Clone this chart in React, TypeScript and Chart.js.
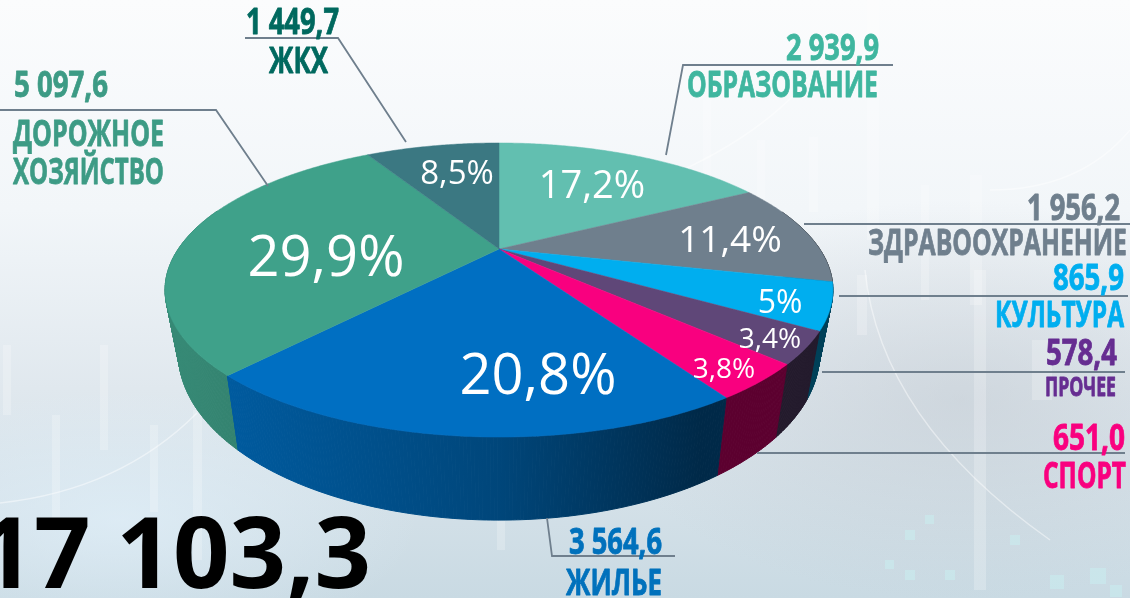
import React, { useEffect, useRef } from "react";
import { Chart, registerables } from "chart.js";

Chart.register(...registerables);

const categories = ["ОБРАЗОВАНИЕ", "ЗДРАВООХРАНЕНИЕ", "КУЛЬТУРА", "ПРОЧЕЕ", "СПОРТ", "ЖИЛЬЕ", "ДОРОЖНОЕ ХОЗЯЙСТВО", "ЖКХ"];
const values = [2939.9, 1956.2, 865.9, 578.4, 651.0, 3564.6, 5097.6, 1449.7];
const valueLabels = ["2 939,9", "1 956,2", "865,9", "578,4", "651,0", "3 564,6", "5 097,6", "1 449,7"];
const percentLabels = ["17,2%", "11,4%", "5%", "3,4%", "3,8%", "20,8%", "29,9%", "8,5%"];
const sliceColors = ["#62bfb0", "#6f7f8d", "#00aeef", "#5f4778", "#f9007f", "#006fc2", "#3fa18a", "#3b7882"];
const textColors = ["#3fb69f", "#6f7f8d", "#00aeef", "#662d91", "#f9007f", "#0071bc", "#3d9b85", "#00695f"];
const totalLabel = "17 103,3";

const K = -0.279, AY = 135.6, BX = 320.7;
const FONT = '"Open Sans", sans-serif';

function shade(hex: string, f: number) {
  const n = parseInt(hex.slice(1), 16);
  return `rgb(${((n >> 16) & 255) * f},${((n >> 8) & 255) * f},${(n & 255) * f})`;
}
const shadeStops: number[][] = [[0, 0.85], [180, 0.85], [500, 0.63], [700, 0.37], [1130, 0.37]];
function rim(arc: any, a: number) {
  const u = Math.cos(a), v = Math.sin(a), den = 1 + K * v;
  return { x: arc.x + (BX * u) / den, y: arc.y + (AY * v) / den, v };
}
function foot(arc: any, p: { x: number; y: number }) {
  return { x: arc.x + 0.96 * (p.x - arc.x), y: p.y + 76 + (p.y - 385) * 0.135 };
}

const valuePlace: number[][] = [
  [786, 60, 93, 35], [1027, 220, 93, 35], [1053, 290, 71, 35], [1046, 365, 71, 35],
  [1053, 450, 72, 35], [569, 554, 93, 35], [14, 97, 94, 35], [246, 34, 93, 35],
];
const nameLines: [string, number, number, number, number][][] = [
  [["ОБРАЗОВАНИЕ", 687, 97, 191, 35]],
  [["ЗДРАВООХРАНЕНИЕ", 868, 255, 259, 35]],
  [["КУЛЬТУРА", 995, 327, 129, 35]],
  [["ПРОЧЕЕ", 1045, 396, 71, 26]],
  [["СПОРТ", 1043, 488, 83, 35]],
  [["ЖИЛЬЕ", 566, 595, 96, 35]],
  [["ДОРОЖНОЕ", 13, 146, 151, 35], ["ХОЗЯЙСТВО", 13, 184, 151, 35]],
  [["ЖКХ", 269, 73, 59, 35]],
];
const percentPlace: number[][] = [
  [592, 198, 38], [730, 252, 37], [780, 313, 32], [770, 348, 28],
  [724, 378, 28], [538, 394, 56], [326, 276, 56], [457, 184, 33],
];
const leaders: number[][][] = [
  [[893, 65], [683, 65], [666, 155]],
  [[804, 224], [1130, 224]],
  [[839, 296], [1128, 296]],
  [[822, 372], [1125, 372]],
  [[757, 453], [1125, 453]],
  [[547, 518], [552, 556], [675, 556]],
  [[0, 110], [216, 110], [268, 186]],
  [[245, 38], [338, 38], [406, 142]],
];
const backdropBars: number[][] = [
  [703, 100, 8, 150], [757, 140, 8, 90], [809, 137, 9, 75], [867, 0, 12, 240], [921, 185, 8, 115],
  [970, 175, 12, 130], [3, 345, 8, 70], [100, 345, 8, 105], [52, 415, 8, 105], [150, 425, 8, 87],
  [193, 410, 9, 150], [857, 275, 10, 60], [974, 270, 12, 320], [1032, 340, 20, 60], [497, 520, 8, 30],
];
const backdropSquares: number[][] = [
  [905, 530, 10, 10], [925, 515, 9, 9], [905, 570, 10, 10], [1010, 535, 10, 10], [885, 560, 9, 9], [945, 570, 10, 10],
  [1050, 575, 14, 14], [1090, 568, 16, 16], [1110, 585, 12, 12],
];

const pie3d = {
  id: "pie3d",
  beforeDraw(chart: any) {
    const c = chart.ctx;
    c.save();
    c.fillStyle = "rgba(255,255,255,0.22)";
    backdropBars.forEach(([x, y, w, h]) => c.fillRect(x, y, w, h));
    c.fillStyle = "rgba(200,245,245,0.4)";
    backdropSquares.forEach(([x, y, w, h]) => c.fillRect(x, y, w, h));
    c.strokeStyle = "rgba(255,255,255,0.45)";
    c.lineWidth = 1.5;
    c.beginPath();
    c.moveTo(0, 503);
    c.quadraticCurveTo(120, 490, 197, 413);
    c.moveTo(865, 270);
    c.quadraticCurveTo(880, 420, 1050, 540);
    c.moveTo(660, 180);
    c.quadraticCurveTo(780, 130, 830, 50);
    c.moveTo(990, 190);
    c.quadraticCurveTo(1080, 190, 1130, 130);
    c.stroke();
    c.restore();
  },
  beforeDatasetDraw() {
    return false;
  },
  afterDatasetsDraw(chart: any) {
    const c = chart.ctx;
    const arcs = chart.getDatasetMeta(0).data;
    const step = Math.PI / 360;
    const quads: any[] = [];
    arcs.forEach((arc: any) => {
      const col = arc.options.backgroundColor;
      const grad = c.createLinearGradient(0, 0, 1130, 0);
      shadeStops.forEach(([x, f]) => grad.addColorStop(x / 1130, shade(col, f)));
      for (let a = arc.startAngle; a < arc.endAngle; a += step) {
        const b = Math.min(a + step, arc.endAngle);
        const p = rim(arc, a), q = rim(arc, b);
        if (p.v < -0.3) continue;
        quads.push({ p, q, pf: foot(arc, p), qf: foot(arc, q), grad });
      }
    });
    quads.sort((m, n) => m.p.y - n.p.y);
    c.save();
    c.lineWidth = 1;
    quads.forEach(({ p, q, pf, qf, grad }) => {
      c.fillStyle = grad;
      c.strokeStyle = grad;
      c.beginPath();
      c.moveTo(p.x, p.y);
      c.lineTo(q.x, q.y);
      c.lineTo(qf.x, qf.y);
      c.lineTo(pf.x, pf.y);
      c.closePath();
      c.fill();
      c.stroke();
    });
    arcs.forEach((arc: any) => {
      c.fillStyle = arc.options.backgroundColor;
      c.strokeStyle = arc.options.backgroundColor;
      c.lineWidth = 0.5;
      c.beginPath();
      c.moveTo(arc.x, arc.y);
      for (let a = arc.startAngle; a < arc.endAngle; a += step) {
        const p = rim(arc, a);
        c.lineTo(p.x, p.y);
      }
      const e = rim(arc, arc.endAngle);
      c.lineTo(e.x, e.y);
      c.closePath();
      c.fill();
      c.stroke();
    });
    c.restore();
  },
  afterDraw(chart: any) {
    const c = chart.ctx;
    c.save();
    c.textBaseline = "alphabetic";
    c.strokeStyle = "#6f7f8d";
    c.lineWidth = 1.8;
    leaders.forEach((pts) => {
      c.beginPath();
      pts.forEach(([x, y], i) => (i ? c.lineTo(x, y) : c.moveTo(x, y)));
      c.stroke();
    });
    c.fillStyle = "#ffffff";
    c.textAlign = "center";
    percentLabels.forEach((t, i) => {
      const [x, y, s] = percentPlace[i];
      c.font = `400 ${s}px ${FONT}`;
      c.fillText(t, x, y);
    });
    c.textAlign = "left";
    const condensed = (t: string, x: number, y: number, w: number, s: number, col: string) => {
      c.font = `700 ${s}px ${FONT}`;
      c.fillStyle = col;
      c.strokeStyle = col;
      c.lineWidth = 0.8;
      c.lineJoin = "round";
      c.fillText(t, x, y, w);
      c.strokeText(t, x, y, w);
    };
    categories.forEach((_, i) => {
      const [x, y, w, s] = valuePlace[i];
      condensed(valueLabels[i], x, y, w, s, textColors[i]);
      nameLines[i].forEach(([t, nx, ny, nw, ns]) => condensed(t, nx, ny, nw, ns, textColors[i]));
    });
    c.textAlign = "right";
    c.fillStyle = "#000000";
    c.font = `700 99px ${FONT}`;
    c.fillText(totalLabel, 371, 588);
    c.restore();
  },
};

export default function App() {
  const ref = useRef<HTMLCanvasElement>(null);
  useEffect(() => {
    const chart = new Chart(ref.current as HTMLCanvasElement, {
      type: "pie",
      data: {
        labels: categories,
        datasets: [{ data: values, backgroundColor: sliceColors, borderWidth: 0 }],
      },
      options: {
        animation: false,
        responsive: false,
        layout: { padding: { left: 0, right: 132, top: 0, bottom: 100 } },
        plugins: { legend: { display: false }, tooltip: { enabled: false } },
      },
      plugins: [pie3d],
    } as any);
    return () => chart.destroy();
  }, []);
  return (
    <div
      style={{
        position: "absolute",
        left: 0,
        top: 0,
        width: 1130,
        height: 598,
        overflow: "hidden",
        background:
          "radial-gradient(ellipse 360px 200px at 960px 400px, rgba(190,198,206,0.5), rgba(190,198,206,0) 100%), radial-gradient(ellipse 300px 130px at 120px 520px, rgba(225,240,250,0.7), rgba(225,240,250,0) 100%), linear-gradient(180deg,#fbfcfd 0%,#f2f6f9 35%,#e0e8ee 65%,#c9dae3 100%)",
      }}
    >
      <canvas ref={ref} width={1130} height={598} style={{ display: "block" }} />
    </div>
  );
}
